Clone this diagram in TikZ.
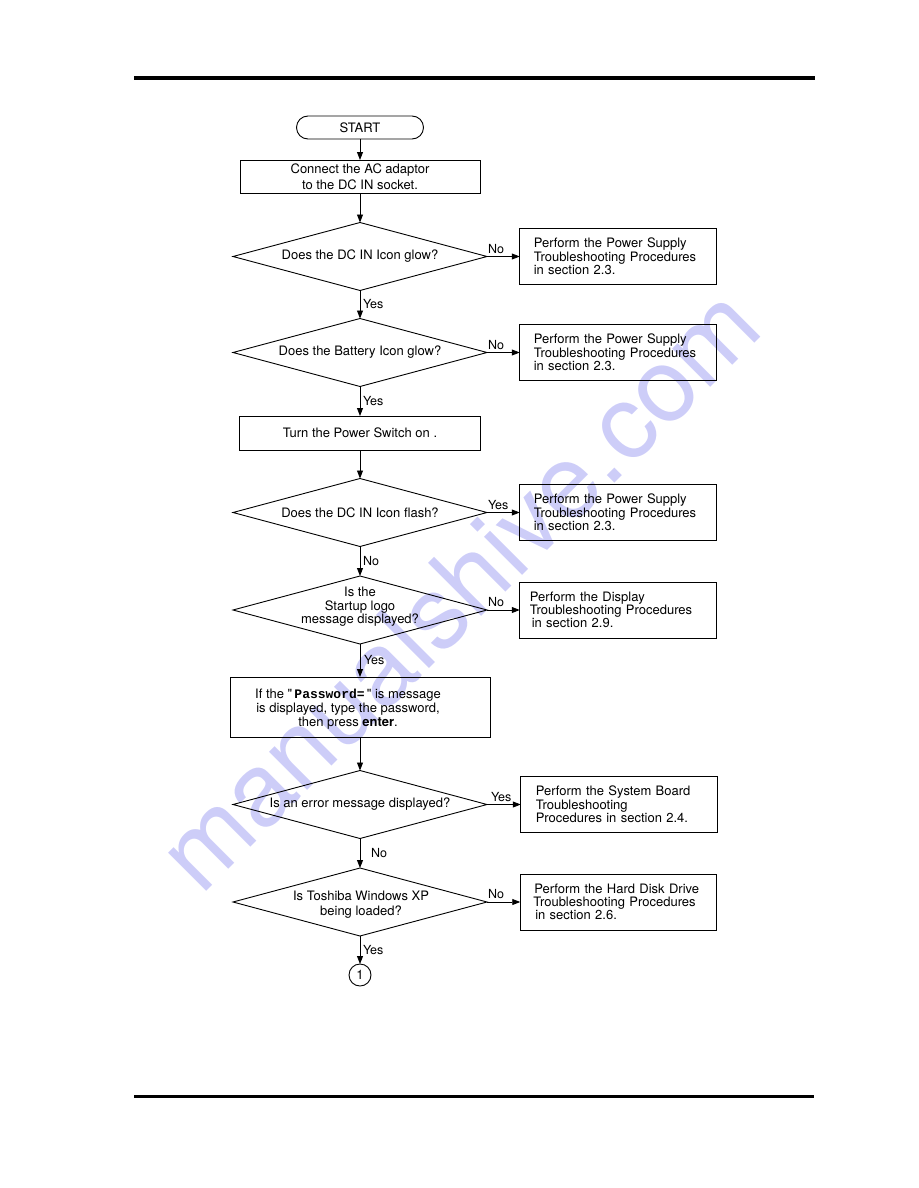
\documentclass[tikz,border=0pt]{standalone}
\usepackage{fontspec}
\setmainfont{TeX Gyre Heros}
\setmonofont{Liberation Mono}
\newfontfamily\hq{TeX Gyre Heros}[Ligatures=TeXOff]
\usetikzlibrary{shapes.geometric,arrows.meta}
\definecolor{wmark}{RGB}{205,205,248}
\begin{document}
\begin{tikzpicture}[x=1pt,y=-1pt,
  every node/.style={font=\fontsize{13}{13.3}\selectfont, inner sep=0pt, outer sep=0pt},
  arr/.style={line width=0.9pt, -{Triangle[length=8pt,width=6pt]}},
  box/.style={draw, line width=0.9pt, rectangle, align=center},
  dia/.style={draw, line width=0.9pt, diamond, minimum width=254pt, minimum height=68pt},
  rbox/.style={draw, line width=0.9pt, rectangle, minimum width=196.5pt, minimum height=56pt,
    inner xsep=#1, text width={196.5pt-2*#1}, align=left},
  rbox/.default=14pt,
  lab/.style={font=\fontsize{12.5}{13}\selectfont},
  hlab/.style={lab, at start, anchor=base west, xshift=1pt, yshift=3.5pt}
]
\useasboundingbox (0,0) rectangle (918,1188);

% watermark
\node[text=wmark, rotate=45, font=\fontsize{103}{103}\selectfont] (wm) at (458,588) {manualshive.com};

% page rules
\draw[line width=4pt] (134,78) -- (815,78);
\draw[line width=3pt] (134,1096.5) -- (814,1096.5);

% main column
\node[draw, line width=0.9pt, rounded corners=11.5pt, minimum width=127pt, minimum height=23pt] (start) at (360,127.5) {START};
\node[box, minimum width=240pt, minimum height=33pt, font=\fontsize{13}{15.7}\selectfont] (b1) at (360,176.5) {Connect the AC adaptor\\to the DC IN socket.};

\node[dia] (d1) at (360,256.5) {};
\node (d1t) at (d1) {Does the DC IN Icon glow?};
\node[rbox] (r1) at (618,256.5) {Perform the Power Supply\\Troubleshooting Procedures\\in section 2.3.};

\node[dia] (d2) at (360,352.5) {};
\node (d2t) at (d2) {Does the Battery Icon glow?};
\node[rbox] (r2) at (618,352.5) {Perform the Power Supply\\Troubleshooting Procedures\\in section 2.3.};

\node[box, minimum width=241pt, minimum height=34pt] (b2) at (360,433) {Turn the Power Switch on .};

\node[dia] (d3) at (360,512.5) {};
\node (d3t) at (d3) {Does the DC IN Icon flash?};
\node[rbox] (r3) at (618,512.5) {Perform the Power Supply\\Troubleshooting Procedures\\in section 2.3.};

\node[dia] (d4) at (360,610) {};
\node[align=center, font=\fontsize{13}{13.5}\selectfont] (d4t) at (360,607) {Is the\\Startup logo\\message displayed?};
\node[rbox=10pt] (r4) at (618,610) {Perform the Display\\Troubleshooting Procedures\\\hspace*{2pt}in section 2.9.};

\node[box, minimum width=260pt, minimum height=60pt] (pw) at (360,707) {};
\node[align=center, font=\fontsize{13}{14}\selectfont] (pwt) at (348,709) {If the {\hq "}\,\textbf{\texttt{Password=}}\,{\hq "} is message\\is displayed, type the password,\\then press \textbf{enter}.};

\node[dia] (d5) at (360,804.5) {};
\node (d5t) at (d5) {Is an error message displayed?};
\node[rbox=15pt] (r5) at (619,804.5) {Perform the System Board\\Troubleshooting\\Procedures in section 2.4.};

\node[dia] (d6) at (360,902) {};
\node[align=center, font=\fontsize{13}{15}\selectfont] (d6t) at (361,905) {Is Toshiba Windows XP\\being loaded?};
\node[rbox] (r6) at (618.5,902) {Perform the Hard Disk Drive\\\hspace*{-1pt}Troubleshooting Procedures\\\hspace*{1pt}in section 2.6.};

\node[draw, circle, line width=0.9pt, minimum size=22pt] (c1) at (360,975) {1};

% vertical connectors
\draw[arr] (start.south) -- (b1.north);
\draw[arr] (b1.south) -- (d1.north);
\draw[arr] (d1.south) -- node[lab, right=3pt] {Yes} (d2.north);
\draw[arr] (d2.south) -- node[lab, right=3pt] {Yes} (b2.north);
\draw[arr] (b2.south) -- (d3.north);
\draw[arr] (d3.south) -- node[lab, right=3pt] {No} (d4.north);
\draw[arr] (d4.south) -- node[lab, right=4pt] {Yes} (pw.north);
\draw[arr] (pw.south) -- (d5.north);
\draw[arr] (d5.south) -- node[lab, right=11pt] {No} (d6.north);
\draw[arr] (d6.south) -- node[lab, right=3pt] {Yes} (c1.north);

% horizontal connectors
\draw[arr] (d1.east) -- node[hlab] {No} (r1.west);
\draw[arr] (d2.east) -- node[hlab] {No} (r2.west);
\draw[arr] (d3.east) -- node[hlab] {Yes} (r3.west);
\draw[arr] (d4.east) -- node[hlab] {No} (r4.west);
\draw[arr] (d5.east) -- node[hlab, xshift=3pt] {Yes} (r5.west);
\draw[arr] (d6.east) -- node[hlab] {No} (r6.west);
\end{tikzpicture}
\end{document}
